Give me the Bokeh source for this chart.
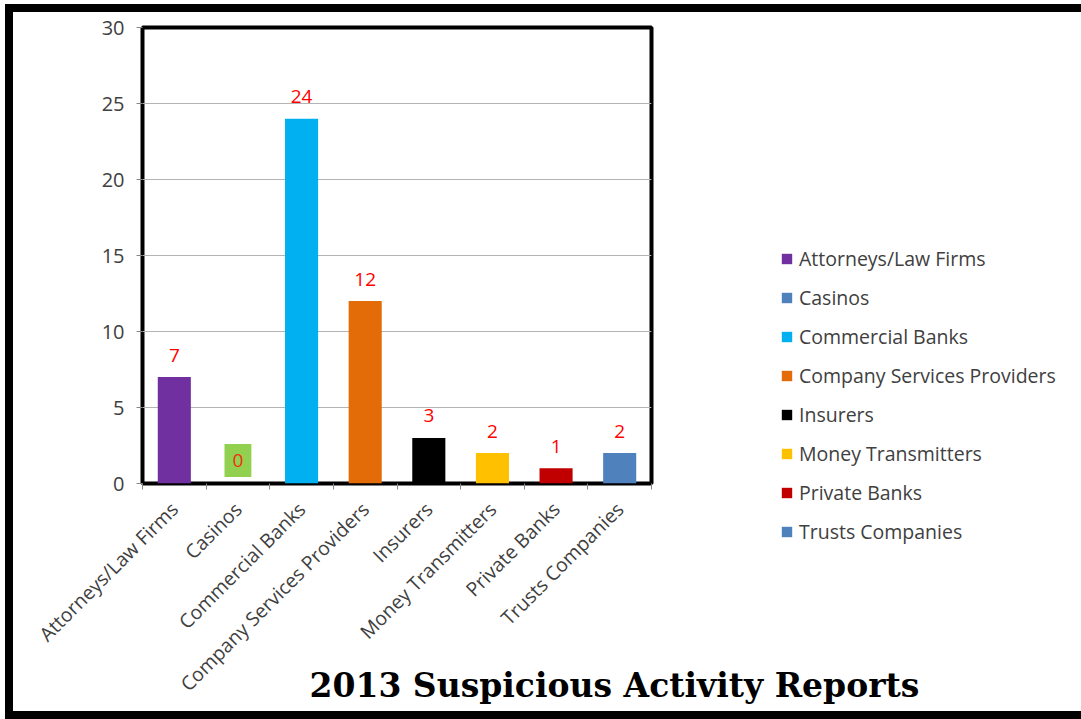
import math
from bokeh.plotting import figure
from bokeh.models import (ColumnDataSource, Range1d, FixedTicker, Label, LabelSet,
                          Legend, LegendItem, Title)
from bokeh.core.properties import value
from bokeh.embed import file_html
from bokeh.resources import INLINE

categories = ["Attorneys/Law Firms", "Casinos", "Commercial Banks",
              "Company Services Providers", "Insurers", "Money Transmitters",
              "Private Banks", "Trusts Companies"]
values = [7, 0, 24, 12, 3, 2, 1, 2]
colors = ["#7030A0", "#4F81BD", "#00B0F0", "#E36C09", "#000000", "#FFC000",
          "#C00000", "#4F81BD"]
y_ticks = [0, 5, 10, 15, 20, 25, 30]
title_text = "2013 Suspicious Activity Reports"

xs = [i + 0.5 for i in range(len(categories))]
src = ColumnDataSource(dict(x=xs, top=values, cat=categories, color=colors))

FONT = "Open Sans"
p = figure(frame_width=509, frame_height=456,
           output_backend="svg", toolbar_location=None,
           x_range=Range1d(0, len(categories)), y_range=Range1d(0, 30),
           min_border_left=129, min_border_right=429,
           min_border_top=15, min_border_bottom=228)
p.styles = {"margin-left": "5px", "margin-top": "4px",
            "border-top": "8px solid black", "border-left": "8px solid black",
            "border-bottom": "8px solid black", "border-right": "1px solid #c8c8c8"}

bars = p.vbar(x="x", top="top", width=0.52, bottom=0, fill_color="color",
              line_color=None, source=src)

p.outline_line_color = "black"
p.outline_line_width = 4

# y axis
p.yaxis.ticker = FixedTicker(ticks=y_ticks)
p.yaxis.axis_line_color = None
p.yaxis.major_tick_out = 6
p.yaxis.major_tick_in = 0
p.yaxis.minor_tick_out = 0
p.yaxis.minor_tick_in = 0
p.yaxis.major_tick_line_color = "#868686"
p.yaxis.major_label_text_font = FONT
p.yaxis.major_label_text_font_size = "20px"
p.yaxis.major_label_text_color = "#404040"
p.yaxis.major_label_standoff = 12

# x axis
p.xaxis.ticker = FixedTicker(ticks=xs, minor_ticks=list(range(len(categories) + 1)))
p.xaxis.major_label_overrides = {x: c for x, c in zip(xs, categories)}
p.xaxis.axis_line_color = None
p.xaxis.major_tick_out = 0
p.xaxis.major_tick_in = 0
p.xaxis.minor_tick_out = 6
p.xaxis.minor_tick_in = 0
p.xaxis.minor_tick_line_color = "#868686"
p.xaxis.major_label_orientation = math.pi / 4
p.xaxis.major_label_text_font = FONT
p.xaxis.major_label_text_font_size = "19.5px"
p.xaxis.major_label_text_color = "#404040"
p.xaxis.major_label_standoff = 16

p.xgrid.grid_line_color = None
p.ygrid.ticker = FixedTicker(ticks=y_ticks[1:-1])
p.ygrid.grid_line_color = "#B3B3B3"
p.ygrid.grid_line_width = 1

# value labels
mask = [v > 0 for v in values]
lab_src = ColumnDataSource(dict(
    x=[x for x, m in zip(xs, mask) if m],
    y=[v for v, m in zip(values, mask) if m],
    t=[str(v) for v, m in zip(values, mask) if m]))
p.add_layout(LabelSet(x="x", y="y", text="t", source=lab_src, y_offset=22,
                      text_align="center", text_baseline="middle",
                      text_color="#FF0000", text_font=value(FONT),
                      text_font_size="19px"))
zi = values.index(0)
p.add_layout(Label(x=xs[zi], y=values[zi], text=str(values[zi]), y_offset=23,
                   text_align="center", text_baseline="middle",
                   text_color="#F03010", text_font=FONT,
                   text_font_size="19px",
                   background_fill_color="#92D050", padding=(8, 10)))

# legend on the right
items = [LegendItem(label=c, renderers=[bars], index=i)
         for i, c in enumerate(categories)]
leg = Legend(items=items, location=(129, -62), border_line_color=None,
             background_fill_alpha=0, padding=0, margin=0,
             glyph_width=13, glyph_height=13, label_height=27, spacing=12,
             label_standoff=6, label_text_font=FONT,
             label_text_font_size="19.5px", label_text_color="#404040")
p.add_layout(leg, "right")

# title below
p.add_layout(Title(text=title_text, align="left", offset=167,
                   vertical_align="top",
                   text_font="DejaVu Serif", text_font_style="bold",
                   text_font_size="33px", text_color="black", standoff=-88),
             "below")

open("out.html", "w").write(file_html(p, INLINE))
